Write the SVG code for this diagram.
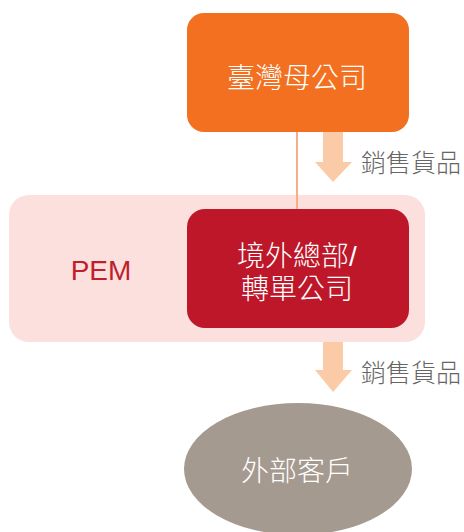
<svg xmlns="http://www.w3.org/2000/svg" width="464" height="532" viewBox="0 0 464 532">
<style>
.t{font-family:"Liberation Sans","Noto Sans CJK TC",sans-serif;font-size:28px;fill:#fff;text-anchor:middle;font-weight:300}
.lab{font-family:"Liberation Sans","Noto Sans CJK TC",sans-serif;font-size:25px;fill:#666;font-weight:300}
.arr{fill:#FBCBA7}
</style>
<rect width="464" height="532" fill="#fff"/>
<g id="pem">
<rect x="9" y="195" width="416" height="147" rx="20" fill="#FCE0DE"/>
<text x="101" y="280" font-family="Liberation Sans, sans-serif" font-size="28" fill="#BE1E2D" text-anchor="middle">PEM</text>
</g>
<g id="connectors">
<line x1="297" y1="132" x2="297" y2="210" stroke="#F8AE84" stroke-width="2"/>
<polygon class="arr" points="323,132 343,132 343,162 352,162 333,182 315,162 323,162"/>
<polygon class="arr" points="323,342 343,342 343,370 352,370 333,392 315,370 323,370"/>
<text class="lab" x="361" y="172">銷售貨品</text>
<text class="lab" x="361" y="382">銷售貨品</text>
</g>
<g id="parent">
<rect x="187" y="13" width="222" height="119" rx="17" fill="#F37021"/>
<text class="t" x="297" y="88">臺灣母公司</text>
</g>
<g id="hq">
<rect x="187" y="209" width="222" height="119" rx="18" fill="#BE1729"/>
<text class="t" x="297" y="266">境外總部/</text>
<text class="t" x="297" y="299">轉單公司</text>
</g>
<g id="customer">
<ellipse cx="298" cy="469" rx="114" ry="66" fill="#A59A90"/>
<text class="t" x="297" y="481">外部客戶</text>
</g>
</svg>
